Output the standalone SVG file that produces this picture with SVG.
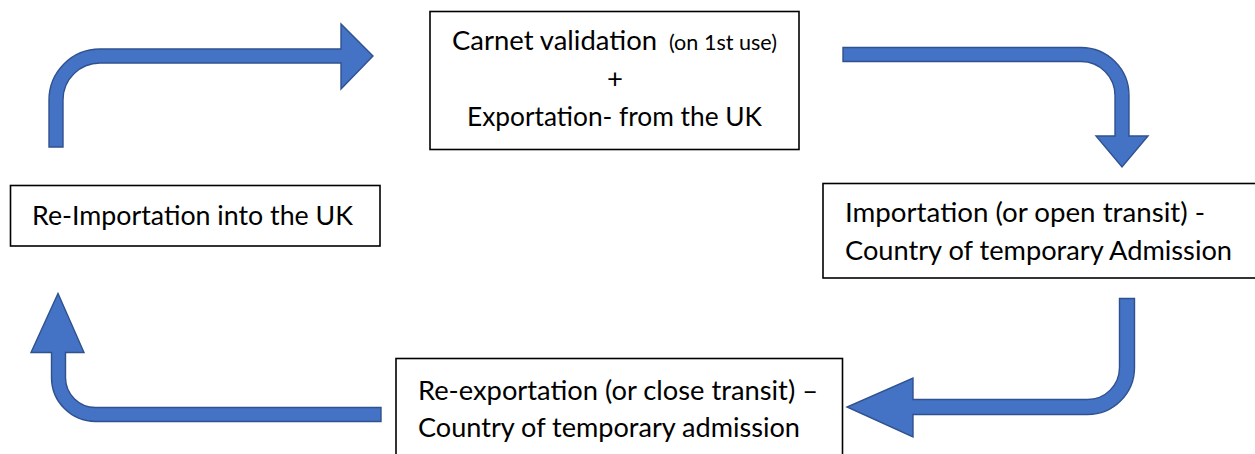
<svg xmlns="http://www.w3.org/2000/svg" width="1255" height="454" viewBox="0 0 1255 454">
<style>
.box{fill:#fff;stroke:#000;stroke-width:1.6}
.t{font-family:Lato,"Open Sans","Liberation Sans",sans-serif;font-size:27.5px;fill:#000}
.s{font-size:21.5px}
.arr{fill:#4472C4;stroke:#2F528F;stroke-width:1.4;stroke-linejoin:miter}
</style>
<rect width="1255" height="454" fill="#fff"/>
<g id="connectors">
<path class="arr" d="M49,147 L49,100 A51,51 0 0 1 100,49 L341,49 L341,24 L373,56 L341,89 L341,63 L100,63 A37,37 0 0 0 63,100 L63,147 Z"/>
<path class="arr" d="M843,47.5 L1081,47.5 A48,48 0 0 1 1129,95.5 L1129,136 L1148,136 L1122,167 L1096,136 L1115,136 L1115,95.5 A34,34 0 0 0 1081,61.5 L843,61.5 Z"/>
<path class="arr" d="M1119.5,298.5 L1134.5,298.5 L1134.5,367.5 A47,47 0 0 1 1087.5,414.5 L913,414.5 L913,437 L847,407 L913,378 L913,399.5 L1087.5,399.5 A32,32 0 0 0 1119.5,367.5 Z"/>
<path class="arr" d="M381,407.5 L381,421.5 L95.5,421.5 A44,44 0 0 1 51.5,377.5 L51.5,352.5 L31,352.5 L58,293.5 L84,352.5 L65.5,352.5 L65.5,377.5 A30,30 0 0 0 95.5,407.5 Z"/>
</g>
<g id="node-carnet">
<rect class="box" x="430" y="11.5" width="369" height="138"/>
<text class="t" x="452" y="50" textLength="205" lengthAdjust="spacingAndGlyphs">Carnet validation</text>
<text class="t s" x="669" y="50" textLength="108" lengthAdjust="spacingAndGlyphs">(on 1st use)</text>
<text class="t" x="615" y="88" text-anchor="middle">+</text>
<text class="t" x="467" y="126" textLength="295" lengthAdjust="spacingAndGlyphs">Exportation- from the UK</text>
</g>
<g id="node-reimport">
<rect class="box" x="10.5" y="185.5" width="369.5" height="60.5"/>
<text class="t" x="32" y="225" textLength="321" lengthAdjust="spacingAndGlyphs">Re-Importation into the UK</text>
</g>
<g id="node-import">
<rect class="box" x="823" y="183.5" width="450" height="94.5"/>
<text class="t" x="845" y="222" textLength="360" lengthAdjust="spacingAndGlyphs">Importation (or open transit) -</text>
<text class="t" x="845" y="260" textLength="387" lengthAdjust="spacingAndGlyphs">Country of temporary Admission</text>
</g>
<g id="node-reexport">
<rect class="box" x="396" y="358.5" width="446.5" height="110"/>
<text class="t" x="418" y="400" textLength="400" lengthAdjust="spacingAndGlyphs">Re-exportation (or close transit) –</text>
<text class="t" x="418" y="437" textLength="382" lengthAdjust="spacingAndGlyphs">Country of temporary admission</text>
</g>
</svg>
